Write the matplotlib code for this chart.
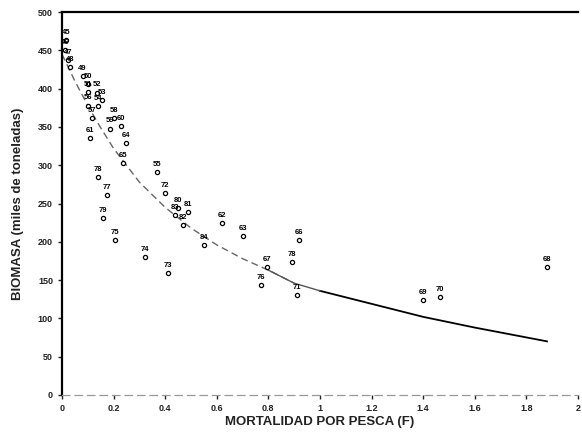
import numpy as np
import matplotlib
matplotlib.use("Agg")
import matplotlib.pyplot as plt

plt.rcParams["font.family"] = ["Liberation Sans", "DejaVu Sans"]

# observed points: fishing mortality F, biomass (thousand t), year label
years = ["45", "46", "47", "48", "49", "50", "51", "52", "53", "54",
         "56", "57", "58", "59", "60", "61", "64", "65",
         "55", "72", "80", "81", "82", "83",
         "62", "63", "84", "73", "74", "75", "77", "78", "79",
         "67", "76", "78", "66", "71", "69", "70", "68"]
f_obs = [0.015, 0.012, 0.023, 0.03, 0.08, 0.10, 0.10, 0.135, 0.155, 0.14,
         0.10, 0.116, 0.20, 0.186, 0.23, 0.11, 0.25, 0.236,
         0.37, 0.40, 0.45, 0.49, 0.47, 0.44,
         0.62, 0.70, 0.55, 0.41, 0.32, 0.205, 0.174, 0.14, 0.16,
         0.795, 0.77, 0.89, 0.92, 0.91, 1.40, 1.465, 1.88]
b_obs = [463, 450, 437, 428, 416, 406, 396, 395, 385, 377,
         378, 362, 362, 348, 351, 335, 329, 303,
         291, 264, 244, 239, 222, 235,
         225, 208, 196, 159, 180, 202, 261, 285, 231,
         167, 144, 174, 202, 130, 124, 128, 167]

# fitted curve
f_fit = [0.0, 0.05, 0.1, 0.15, 0.2, 0.3, 0.4, 0.5, 0.6, 0.7, 0.8, 0.9,
         1.0, 1.2, 1.4, 1.6, 1.88]
b_fit = [445, 410, 378, 349, 322, 278, 245, 218, 196, 178, 163, 146,
         136, 119, 102, 88, 70]

x_ticks = [0, 0.2, 0.4, 0.6, 0.8, 1, 1.2, 1.4, 1.6, 1.8, 2]
x_tick_labels = ["0", "0.2", "0.4", "0.6", "0.8", "1", "1.2", "1.4", "1.6", "1.8", "2"]
y_ticks = [0, 50, 100, 150, 200, 250, 300, 350, 400, 450, 500]

fig = plt.figure(figsize=(5.82, 4.34), dpi=100)
ax = fig.add_axes([0.1065, 0.09, 0.8865, 0.882])

# curve: faint dashed on the left part, solid further right
f_fit = np.array(f_fit)
b_fit = np.array(b_fit)
left = f_fit <= 0.9
ax.plot(f_fit[left], b_fit[left], color="#666666", lw=1.0, ls=(0, (5, 3)))
ax.plot(f_fit[~left], b_fit[~left], color="black", lw=1.3)
mid = (f_fit >= 0.8) & (f_fit <= 1.0)
ax.plot(f_fit[mid], b_fit[mid], color="#555555", lw=1.0)

ax.scatter(f_obs, b_obs, s=9, facecolors="white", edgecolors="black",
           linewidths=0.9, zorder=3)
for yr, f, b in zip(years, f_obs, b_obs):
    ax.annotate(yr, (f, b), xytext=(0, 3), textcoords="offset points",
                ha="center", va="bottom", fontsize=5.5, fontweight="bold",
                zorder=4)

ax.set_xlim(0, 2)
ax.set_ylim(0, 500)
ax.set_xticks(x_ticks)
ax.set_xticklabels(x_tick_labels)
ax.set_yticks(y_ticks)
ax.tick_params(axis="both", labelsize=6.5, length=3, width=1, colors="#222222")
for lab in ax.get_xticklabels() + ax.get_yticklabels():
    lab.set_fontweight("bold")

ax.spines["left"].set_linewidth(1.6)
ax.spines["top"].set_linewidth(1.6)
ax.spines["right"].set_visible(False)
ax.spines["bottom"].set_color("#999999")
ax.spines["bottom"].set_linestyle((0, (6, 4)))
ax.spines["bottom"].set_linewidth(0.9)

ax.set_xlabel("MORTALIDAD POR PESCA (F)", fontsize=9.5, fontweight="bold",
              color="#222222", labelpad=2)
ax.set_ylabel("BIOMASA (miles de toneladas)", fontsize=9.5, fontweight="bold",
              color="#222222", labelpad=10)

fig.savefig("out.png", dpi=100)
